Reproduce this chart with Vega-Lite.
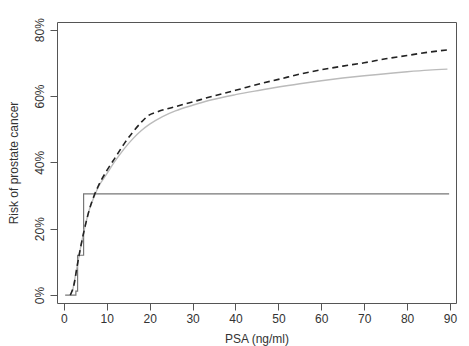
{
  "$schema": "https://vega.github.io/schema/vega-lite/v6.json",
  "autosize": "none",
  "width": 399,
  "height": 281,
  "padding": {"left": 57, "top": 22, "right": 13, "bottom": 43},
  "background": "white",
  "config": {
    "view": {"stroke": "#555", "strokeWidth": 1},
    "font": "Liberation Sans",
    "axis": {
      "grid": false, "domain": false, "ticks": true, "tickSize": 7, "tickColor": "#555",
      "labelFont": "Liberation Sans", "labelFontSize": 12, "labelColor": "#333",
      "titleFont": "Liberation Sans", "titleFontSize": 12, "titleColor": "#333", "titleFontWeight": "normal"
    }
  },
  "datasets": {
    "step": [
      {"psa": 0.3, "risk": 0},
      {"psa": 2.8, "risk": 0.012},
      {"psa": 3.2, "risk": 0.12},
      {"psa": 4.6, "risk": 0.305},
      {"psa": 89.8, "risk": 0.305}
    ],
    "gray": [
      {"psa": 2, "risk": 0.01}, {"psa": 3, "risk": 0.08}, {"psa": 4, "risk": 0.15}, {"psa": 5, "risk": 0.21},
      {"psa": 6, "risk": 0.26}, {"psa": 7, "risk": 0.295}, {"psa": 8, "risk": 0.325}, {"psa": 10, "risk": 0.365},
      {"psa": 12, "risk": 0.405}, {"psa": 14, "risk": 0.44}, {"psa": 16, "risk": 0.47}, {"psa": 18, "risk": 0.495},
      {"psa": 20, "risk": 0.515}, {"psa": 23, "risk": 0.538}, {"psa": 26, "risk": 0.555}, {"psa": 30, "risk": 0.572},
      {"psa": 34, "risk": 0.587}, {"psa": 40, "risk": 0.604}, {"psa": 46, "risk": 0.618}, {"psa": 50, "risk": 0.627},
      {"psa": 55, "risk": 0.637}, {"psa": 60, "risk": 0.646}, {"psa": 65, "risk": 0.654}, {"psa": 70, "risk": 0.661},
      {"psa": 75, "risk": 0.667}, {"psa": 80, "risk": 0.673}, {"psa": 85, "risk": 0.678}, {"psa": 89.4, "risk": 0.681}
    ],
    "dashed": [
      {"psa": 1.5, "risk": 0}, {"psa": 2.5, "risk": 0.04}, {"psa": 3, "risk": 0.08}, {"psa": 4, "risk": 0.15},
      {"psa": 5, "risk": 0.21}, {"psa": 6, "risk": 0.26}, {"psa": 7, "risk": 0.298}, {"psa": 8, "risk": 0.328},
      {"psa": 10, "risk": 0.375}, {"psa": 12, "risk": 0.415}, {"psa": 14, "risk": 0.455}, {"psa": 16, "risk": 0.49},
      {"psa": 18, "risk": 0.52}, {"psa": 19.7, "risk": 0.541}, {"psa": 22, "risk": 0.553}, {"psa": 26, "risk": 0.568},
      {"psa": 30, "risk": 0.582}, {"psa": 34, "risk": 0.597}, {"psa": 40, "risk": 0.617}, {"psa": 46, "risk": 0.638},
      {"psa": 50, "risk": 0.65}, {"psa": 55, "risk": 0.666}, {"psa": 60, "risk": 0.679}, {"psa": 65, "risk": 0.69},
      {"psa": 70, "risk": 0.70}, {"psa": 75, "risk": 0.712}, {"psa": 80, "risk": 0.722}, {"psa": 85, "risk": 0.732},
      {"psa": 89.4, "risk": 0.739}
    ]
  },
  "encoding": {
    "x": {
      "field": "psa", "type": "quantitative",
      "scale": {"domain": [-1.6, 91.4], "nice": false, "zero": false},
      "axis": {"title": "PSA (ng/ml)", "values": [0,10,20,30,40,50,60,70,80,90], "labelPadding": 3, "titlePadding": 9, "labelFlush": false}
    },
    "y": {
      "field": "risk", "type": "quantitative",
      "scale": {"domain": [-0.024, 0.823], "nice": false, "zero": false},
      "axis": {"title": "Risk of prostate cancer", "values": [0,0.2,0.4,0.6,0.8], "format": ".0%",
        "labelAngle": -90, "labelAlign": "center", "labelBaseline": "bottom", "labelPadding": 4, "titlePadding": 13, "labelFlush": false}
    }
  },
  "layer": [
    {
      "data": {"name": "step"},
      "mark": {"type": "line", "interpolate": "step-after", "color": "#777", "strokeWidth": 1.2, "clip": true}
    },
    {
      "data": {"name": "gray"},
      "mark": {"type": "line", "interpolate": "monotone", "color": "#bbb", "strokeWidth": 1.4, "clip": true}
    },
    {
      "data": {"name": "dashed"},
      "mark": {"type": "line", "interpolate": "monotone", "color": "#222", "strokeWidth": 1.6, "strokeDash": [6, 4], "clip": true}
    }
  ]
}
